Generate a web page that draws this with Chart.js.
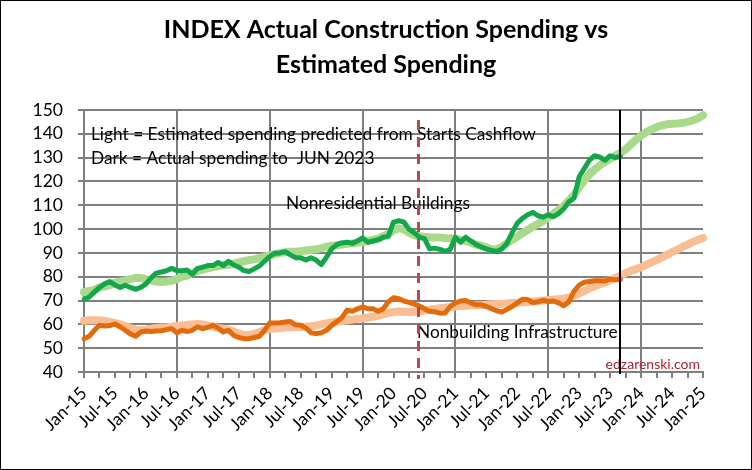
<!DOCTYPE html>
<html>
<head>
<meta charset="utf-8">
<script src="https://cdn.jsdelivr.net/npm/chart.js@4.4.0/dist/chart.umd.min.js"></script>
<style>
  body { margin: 0; background: #fff; }
  #wrap { width: 752px; height: 470px; position: relative; }
</style>
</head>
<body>
<div id="wrap"><canvas id="chart"></canvas></div>
<script>
// month labels Jan-15 .. Jan-25
const monthNames = ['Jan','Feb','Mar','Apr','May','Jun','Jul','Aug','Sep','Oct','Nov','Dec'];
const labels = [];
for (let y = 15; y <= 25; y++) {
  for (let m = 0; m < 12; m++) {
    if (y === 25 && m > 0) break;
    labels.push(monthNames[m] + '-' + y);
  }
}

// Nonresidential Buildings - actual (dark) and estimated (light)
const nonresActual = [
  70.5, 71.5, 73.5, 75.5, 77, 78, 76.5, 75.5, 76.4, 75.5, 74.7, 75.5,
  77, 79.5, 81.5, 82, 82.5, 83.5, 82.5, 82.5, 82.8, 81, 83.5, 84,
  84.7, 84.7, 86, 84.7, 86.5, 85, 84, 82.6, 82.2, 83.3, 84.5, 86.5,
  88.5, 89.9, 90, 90.5, 89.2, 88, 88, 87, 88, 87, 85.1, 88.2,
  91.7, 93.5, 94.2, 94.5, 94, 95, 96.3, 94.5, 95, 95.5, 96.6, 97,
  102.9, 103.5, 103, 100, 98.5, 96.6, 96, 91.7, 92, 91.5, 90.7, 91.5,
  96.6, 94.5, 96.6, 95, 93.5, 92.5, 91.7, 91, 90.6, 91.7, 94, 98.5,
  102.5, 104.5, 106, 107, 105.6, 105, 106, 105.2, 106.5, 108.5, 111.5, 113,
  122, 125.5, 129, 130.8, 130.2, 128.9, 130.8, 130, 130.5
];
const nonresEstimated = [
  73.5, 74, 74.5, 75.5, 76, 76.5, 77.5, 78, 78.5, 79, 79.5, 79.5,
  79, 78.5, 78, 77.8, 78, 78.3, 79, 80, 80.5, 81.5, 82.5, 83,
  83.5, 84, 84.5, 84.8, 85, 85.5, 86, 86.5, 87, 87.3, 87.8, 88.5,
  89, 89.5, 90, 90.3, 90.5, 90.5, 90.7, 91, 91.2, 91.5, 92, 92.5,
  93, 93.2, 93.5, 93.8, 94, 94.3, 94.5, 95, 95.5, 96, 97, 98,
  99.5, 100.3, 100, 98.5, 97.5, 97, 96.8, 96.6, 96.5, 96.5, 96.3, 96.2,
  96, 95.5, 95, 94.3, 93.5, 93, 92.3, 91.5, 91.5, 92.5, 94, 95.5,
  96.8, 98.3, 99.6, 101, 102.2, 103.3, 104.9, 106.5, 108, 109.8, 112, 114.5,
  117.5, 120.5, 123, 125, 126.8, 128.2, 129.5, 130.8, 132, 133.5, 135.5, 137.5,
  139.3, 140.7, 141.8, 142.8, 143.5, 144, 144.2, 144.3, 144.5, 145, 145.6, 146.5,
  147.8
];

// Nonbuilding Infrastructure - actual (dark) and estimated (light)
const infraActual = [
  54, 55, 57.5, 59.6, 59.3, 59.5, 60.2, 59, 57.5, 56, 55, 56.8,
  57.2, 57, 57.2, 57.3, 57.8, 58.2, 56.5, 57.5, 57, 57.5, 59, 58.2,
  58.8, 59.6, 58.5, 56.8, 57.5, 55.4, 54.5, 54, 54, 54.5, 55, 57.5,
  60.6, 60.6, 60.7, 61, 61.2, 59.8, 59.6, 58.5, 56.5, 56.1, 56.5, 57.5,
  59.5, 61.2, 62.8, 66, 65.5, 66.5, 67.3, 66.6, 66.6, 65.5, 66.5, 69.5,
  71.2, 70.8, 69.8, 69.2, 68.5, 67.8, 66.5, 65.5, 65.3, 64.7, 64.8, 67.5,
  69, 69.8, 70, 69, 68.2, 68.2, 67.5, 66.6, 65.7, 65.2, 66.3, 67.5,
  69, 70.5, 70.4, 69.2, 69.5, 70.1, 69.6, 69.8, 69, 67.8, 69.5, 74,
  76.5, 77.7, 78, 78.3, 78.3, 78.2, 79, 78.7, 78.8
];
const infraEstimated = [
  61.5, 61.7, 61.7, 61.6, 61.5, 61, 60.5, 60, 59.3, 58.5, 57.8, 57.5,
  57.8, 58.2, 58.5, 58.7, 58.8, 59, 59.3, 59.5, 59.8, 60, 60.2, 60,
  59.5, 59, 58.5, 58.2, 57.8, 57, 56.2, 55.5, 55.5, 56, 56.8, 57.5,
  58, 58.3, 58.5, 58.7, 58.8, 58.8, 58.8, 59, 59.2, 59.5, 60, 60.4,
  60.8, 61.1, 61.4, 61.7, 62, 62.3, 62.6, 62.9, 63.2, 63.6, 64.2, 64.8,
  65.2, 65.4, 65.3, 65.2, 65.3, 65.5, 65.8, 66.2, 66.5, 66.8, 67, 67.3,
  67.5, 67.7, 67.8, 68, 68, 68.1, 68.2, 68.4, 68.5, 68.6, 68.8, 69,
  69.1, 69.3, 69.4, 69.6, 69.8, 70, 70.2, 70.4, 70.6, 70.8, 71.3, 72,
  73, 74, 75.2, 76, 76.8, 77.6, 78.5, 79.5, 80.5, 81.5, 82.5, 83.2,
  84, 85, 86, 87, 88, 89.2, 90.3, 91.3, 92.5, 93.5, 94.5, 95.5,
  96.3
];

// vertical markers (month index on the x axis)
const covidMonth = 64.8;
const actualEndMonth = 104;

const gridGray = '#7f7f7f';

const overlayPlugin = {
  id: 'overlay',
  beforeDatasetsDraw(chart) {
    const ctx = chart.ctx;
    ctx.save();
    ctx.fillStyle = '#000';
    ctx.textBaseline = 'middle';
    ctx.textAlign = 'left';
    ctx.font = '17.3px Lato';
    ctx.fillText('Light = Estimated spending predicted from Starts Cashflow', 91, 134);
    ctx.fillText('Dark = Actual spending to  JUN 2023', 91, 158);
    ctx.fillText('Nonresidential Buildings', 286, 203);
    ctx.fillText('Nonbuilding Infrastructure', 417, 332);
    ctx.fillStyle = '#a3262e';
    ctx.font = '14px Lato';
    ctx.textAlign = 'right';
    ctx.fillText('edzarenski.com', 700, 364);
    ctx.restore();
  },
  afterDatasetsDraw(chart) {
    const ctx = chart.ctx;
    const x = chart.scales.x;
    const area = chart.chartArea;
    ctx.save();
    // dashed line
    const xc = Math.round(x.getPixelForValue(covidMonth)) + 0.5;
    ctx.strokeStyle = '#b8484b';
    ctx.lineWidth = 3;
    ctx.setLineDash([10, 7]);
    ctx.beginPath();
    ctx.moveTo(xc, area.top + 10);
    ctx.lineTo(xc, area.bottom + 7);
    ctx.stroke();
    // end of actual data
    const xe = Math.round(x.getPixelForValue(actualEndMonth));
    ctx.setLineDash([]);
    ctx.strokeStyle = '#000';
    ctx.lineWidth = 2;
    ctx.beginPath();
    ctx.moveTo(xe, area.top);
    ctx.lineTo(xe, area.bottom + 2);
    ctx.stroke();
    ctx.restore();
  },
  afterDraw(chart) {
    const ctx = chart.ctx;
    ctx.save();
    ctx.fillStyle = '#000';
    ctx.textAlign = 'center';
    ctx.textBaseline = 'middle';
    ctx.font = 'bold 25px Lato';
    ctx.fillText('INDEX Actual Construction Spending vs', 386, 30);
    ctx.fillText('Estimated Spending', 386, 65);
    ctx.strokeStyle = '#000';
    ctx.lineWidth = 1;
    ctx.strokeRect(0.5, 0.5, chart.width - 1, chart.height - 1);
    ctx.restore();
  }
};

new Chart(document.getElementById('chart'), {
  type: 'line',
  data: {
    labels: labels,
    datasets: [
      { label: 'Nonres actual', data: nonresActual, borderColor: '#14a64b', borderWidth: 5 },
      { label: 'Infra actual', data: infraActual, borderColor: '#e36b0c', borderWidth: 5 },
      { label: 'Nonres estimated', data: nonresEstimated, borderColor: '#a9d98b', borderWidth: 8 },
      { label: 'Infra estimated', data: infraEstimated, borderColor: '#f9bf92', borderWidth: 8 }
    ]
  },
  options: {
    responsive: true,
    maintainAspectRatio: false,
    animation: false,
    layout: { padding: { top: 110, right: 49, left: 0, bottom: 0 } },
    elements: {
      line: { tension: 0, borderJoinStyle: 'round', borderCapStyle: 'round', fill: false },
      point: { radius: 0, hoverRadius: 0 }
    },
    plugins: {
      legend: { display: false },
      title: { display: false },
      tooltip: { enabled: false }
    },
    scales: {
      x: {
        type: 'category',
        offset: false,
        afterFit: (s) => { s.height = 98; },
        grid: {
          color: (c) => (c.index % 6 === 0 ? gridGray : 'rgba(0,0,0,0)'),
          tickColor: gridGray,
          lineWidth: 2,
          tickLength: 6,
          offset: false
        },
        border: { color: gridGray, width: 2 },
        ticks: {
          autoSkip: false,
          maxRotation: 45,
          minRotation: 45,
          padding: 5,
          color: '#000',
          font: { family: 'Lato', size: 17.5 },
          callback: function (val, i) {
            if (i % 3 !== 0) return null;
            return i % 6 === 0 ? labels[i] : '';
          }
        }
      },
      y: {
        min: 40,
        max: 150,
        afterFit: (s) => { s.width = 84; },
        grid: { color: gridGray, lineWidth: 2, tickLength: 6 },
        border: { color: gridGray, width: 2 },
        ticks: {
          stepSize: 10,
          autoSkip: false,
          padding: 15,
          color: '#000',
          font: { family: 'Lato', size: 17.5, lineHeight: 1 }
        }
      }
    }
  },
  plugins: [overlayPlugin]
});
</script>
</body>
</html>
